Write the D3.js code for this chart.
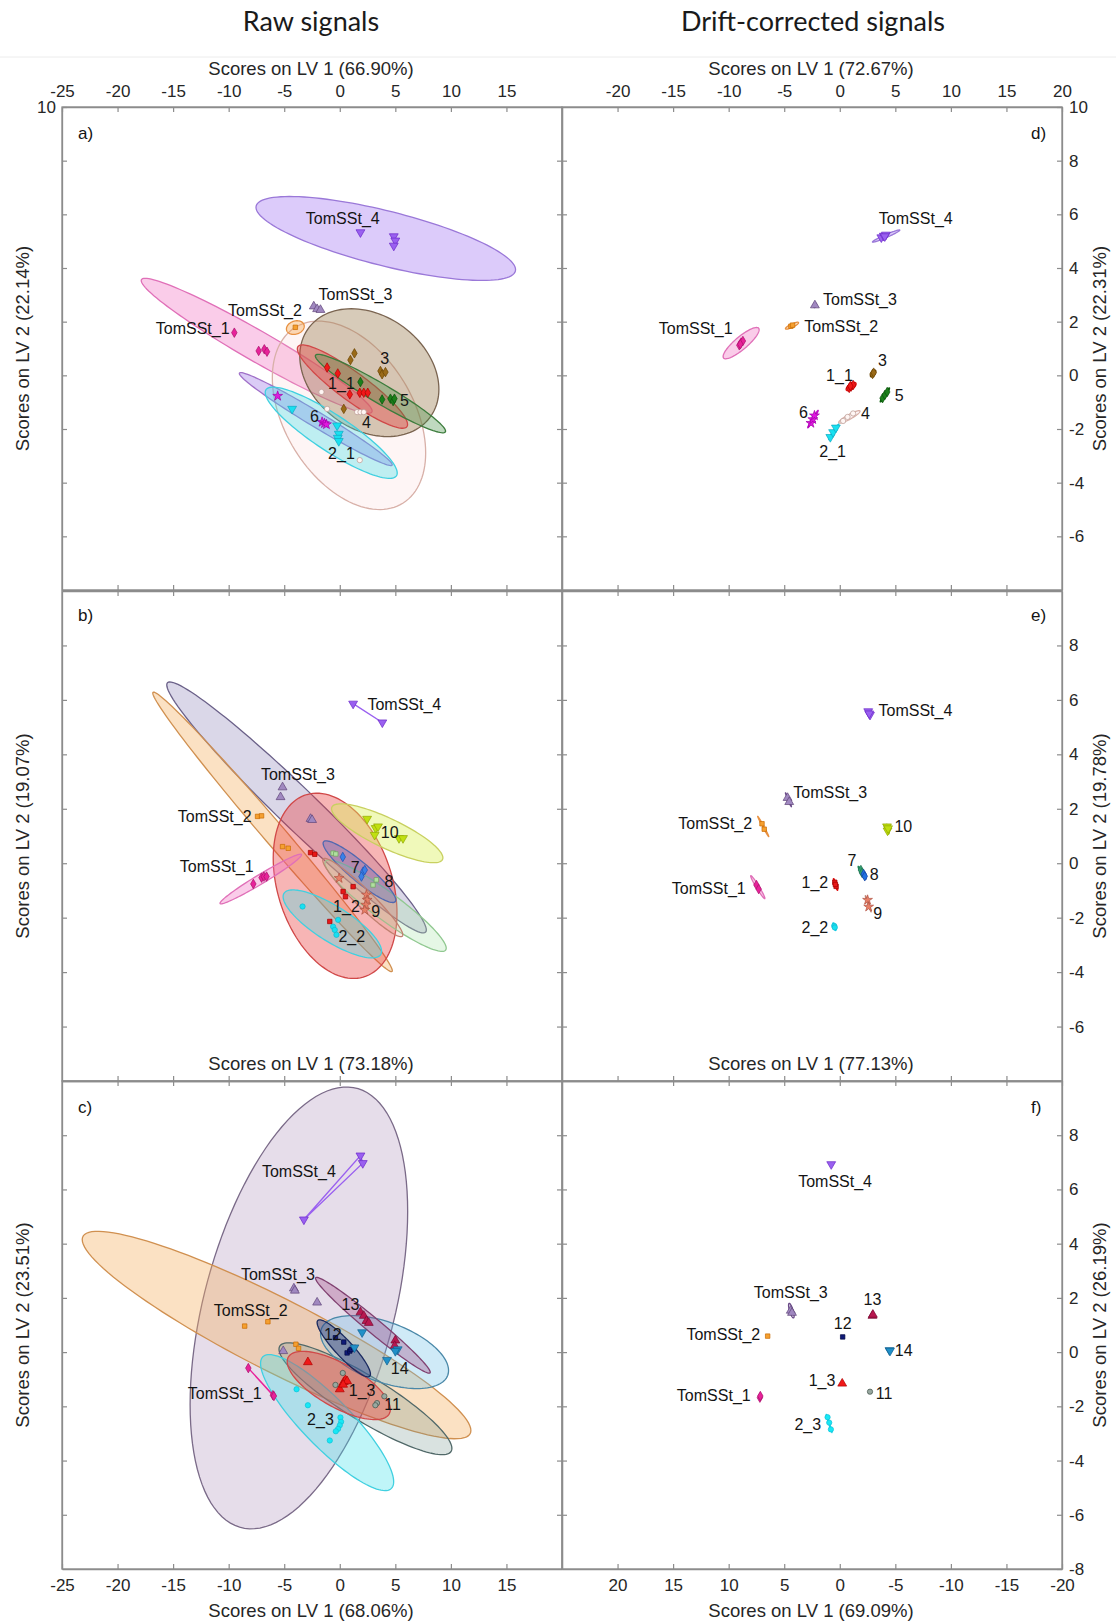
<!DOCTYPE html>
<html><head><meta charset="utf-8">
<script src="https://cdn.jsdelivr.net/npm/d3@7"></script>
<style>
body{margin:0;background:#fff;}
svg text{font-family:"Liberation Sans",Arial,Helvetica,sans-serif;}
</style>
</head><body>
<svg id="chart" width="1116" height="1623"></svg>
<script>
// ---------------- DATA ----------------
const columnTitles = ["Raw signals", "Drift-corrected signals"];
const xTicks = [-20,-15,-10,-5,0,5,10,15];
const yTicks = [-6,-4,-2,0,2,4,6,8];
const xLabelsLeft = [-25,-20,-15,-10,-5,0,5,10,15];
const xLabelsRight = [-20,-15,-10,-5,0,5,10,15,20];
const xLabelsF = [20,15,10,5,0,-5,-10,-15,-20];
const yLabelsD = [10,8,6,4,2,0,-2,-4,-6];
const yLabelsE = [8,6,4,2,0,-2,-4,-6];
const yLabelsF = [8,6,4,2,0,-2,-4,-6,-8];

const xTitles = {a:"Scores on LV 1 (66.90%)", d:"Scores on LV 1 (72.67%)", b:"Scores on LV 1 (73.18%)",
                 e:"Scores on LV 1 (77.13%)", c:"Scores on LV 1 (68.06%)", f:"Scores on LV 1 (69.09%)"};
const yTitles = {a:"Scores on LV 2 (22.14%)", d:"Scores on LV 2 (22.31%)", b:"Scores on LV 2 (19.07%)",
                 e:"Scores on LV 2 (19.78%)", c:"Scores on LV 2 (23.51%)", f:"Scores on LV 2 (26.19%)"};

// points: [group, LV1, LV2]
const aPoints = [
 ["T1",-9.49,1.59],["T1",-7.30,0.91],["T1",-6.79,0.97],["T1",-6.55,0.88],
 ["T2",-4.0,1.79],
 ["T3",-2.34,2.57],["T3",-2.04,2.47],["T3",-1.74,2.44],
 ["T4",1.86,5.33],["T4",4.86,5.18],["T4",5.0,5.02],["T4",4.86,4.83],
 ["3",1.32,0.82],["3",0.96,0.57],["3",3.66,0.16],["3",3.81,0.04],["3",4.11,0.12],["3",0.36,-1.25],
 ["1_1",-1.14,0.29],["1_1",-0.18,0.07],["1_1",0.9,-0.71],["1_1",1.80,-0.65],["1_1",2.16,-0.65],["1_1",2.52,-0.65],
 ["5",1.86,-0.25],["5",3.81,-0.90],["5",4.56,-0.87],["5",4.80,-0.96],["5",4.92,-0.87],
 ["4",-1.65,-0.62],["4",-1.14,-1.25],["4",1.56,-1.37],["4",1.86,-1.37],["4",2.16,-1.37],["4",1.80,-3.16],
 ["6",-5.59,-0.77],["6",-1.59,-1.74],["6",-1.38,-1.79],["6",-1.20,-1.83],
 ["2_1",-4.29,-1.25],["2_1",-0.24,-1.87],["2_1",-0.09,-2.18],["2_1",-0.18,-2.33],["2_1",-0.09,-2.45]
];
// ellipses: [style, centreLV1, centreLV2, u1, u2, h]
const aEllipses = [
 ["T4e",4.14,5.10,11.68,-1.16,1.05],
 ["T1e",-7.48,1.10,10.39,-2.43,0.65],
 ["4e",0.83,-1.49,6.9,-1.4,3.22],
 ["3e",2.66,0.10,6.26,-0.62,2.3],
 ["6e",-2.16,-1.63,6.88,-1.70,0.33],
 ["2e",-0.77,-2.14,5.94,-1.5,0.8],
 ["1e",1.14,-0.42,4.96,-1.41,0.65],
 ["5e",3.66,-0.68,5.86,-1.40,0.42],
 ["T2e",-4.0,1.78,0.8,0.05,0.25]
];
const aLabels = [["TomSSt_4",0.27,5.64],["TomSSt_3",1.41,2.8],["TomSSt_2",-6.73,2.22],["TomSSt_1",-13.24,1.53],
 ["3",4.05,0.44],["1_1",0.15,-0.52],["5",5.83,-1.15],["6",-2.28,-1.74],["4",2.40,-1.98],["2_1",0.15,-3.10]];

const dPoints = [
 ["T4",3.74,5.14],["T4",3.96,5.20],["T4",4.15,5.24],["T4",4.05,5.18],
 ["T3",-2.24,2.61],
 ["T2",-4.4,1.83],["T2",-4.25,1.87],
 ["T1",-9.04,1.12],["T1",-8.88,1.22],["T1",-8.72,1.28],["T1",-8.95,1.16],
 ["3",2.95,0.05],["3",3.05,0.1],
 ["1_1",0.85,-0.47],["1_1",1.02,-0.42],["1_1",1.2,-0.36],["1_1",0.95,-0.40],
 ["5",3.85,-0.85],["5",4.06,-0.73],["5",4.27,-0.62],
 ["4",0.3,-1.7],["4",0.7,-1.55],["4",1.2,-1.42],
 ["6",-2.6,-1.78],["6",-2.43,-1.64],["6",-2.28,-1.5],
 ["2_1",-0.85,-2.3],["2_1",-0.6,-2.12],["2_1",-0.35,-1.95]
];
const dEllipses = [
 ["T4e",4.17,5.19,1.23,0.22,0.06],
 ["T2e",-4.30,1.85,0.59,0.11,0.07],
 ["T1e",-8.88,1.20,1.62,0.5,0.3],
 ["T3s",-2.24,2.61,0.15,0.02,0.08],
 ["3s",3.0,0.07,0.25,0.08,0.1],
 ["1s",1.02,-0.42,0.45,0.1,0.12],
 ["5s",4.06,-0.73,0.42,0.25,0.08],
 ["4e",0.86,-1.55,0.96,0.21,0.1],
 ["6s",-2.41,-1.63,0.47,0.32,0.06],
 ["2s",-0.54,-2.11,0.45,0.28,0.07]
];
const dLabels = [["TomSSt_4",6.84,5.63],["TomSSt_3",1.82,2.62],["TomSSt_2",0.13,1.63],["TomSSt_1",-12.97,1.53],
 ["3",3.83,0.35],["1_1",-0.03,-0.21],["5",5.34,-0.96],["4",2.3,-1.62],["6",-3.26,-1.58],["2_1",-0.64,-3.03]];

const bPoints = [
 ["T4",1.20,5.86],["T4",3.83,5.17],
 ["T3",-5.15,2.79],["T3",-5.33,2.43],["T3",-2.63,1.63],["T3",-2.49,1.59],
 ["T2",-7.40,1.72],["T2",-7.04,1.74],["T2",-5.15,0.61],["T2",-4.64,0.55],
 ["T1",-7.78,-0.76],["T1",-7.04,-0.53],["T1",-6.83,-0.49],["T1",-6.59,-0.49],
 ["1_2",-2.63,0.39],["1_2",-2.25,0.33],["1_2",1.20,-0.86],["1_2",0.30,-1.04],["1_2",0.51,-1.23],["1_2",-0.90,-2.14],
 ["2_2",-3.35,-1.59],["2_2",-0.15,-2.08],["2_2",-0.60,-2.33],["2_2",-0.45,-2.45],["2_2",-0.30,-2.63],
 ["7",0.27,0.23],["7",2.10,-0.31],["7",1.95,-0.49],["7",2.25,-0.25],
 ["8",-0.60,0.37],["8",-0.36,0.34],["8",2.99,-0.80],["8",3.29,-0.61],
 ["9",-0.06,-0.55],["9",2.40,-1.16],["9",2.46,-1.35],["9",2.34,-1.53],["9",2.25,-1.72],
 ["10",2.46,1.63],["10",3.23,1.29],["10",3.44,1.35],["10",3.14,1.04],["10",5.33,0.92],["10",5.69,0.92]
];
const bEllipses = [
 ["T3b",-3.89,2.05,11.68,-4.5,1.0],
 ["T2b",-6.05,1.15,10.78,-5.1,0.6],
 ["1e",-0.42,-0.83,5.57,-1.01,3.25],
 ["2e",-0.67,-2.23,4.43,-1.0,0.75],
 ["8e",4.12,-1.56,5.46,-1.56,0.62],
 ["7e",1.77,-0.31,3.27,-1.04,0.45],
 ["9e",2.07,-1.26,3.6,-1.37,0.44],
 ["10e",4.27,1.1,5.01,-0.9,0.6],
 ["T1e",-7.11,-0.58,3.67,0.89,0.2]
];
const bOutlines = ["T4"];
const bLabels = [["TomSSt_4",5.81,5.64],["TomSSt_3",-3.77,3.06],["TomSSt_2",-11.26,1.53],["TomSSt_1",-11.08,-0.34],
 ["10",4.49,0.92],["7",1.38,-0.37],["8",4.43,-0.88],["1_2",0.6,-1.78],["9",3.23,-1.96],["2_2",1.08,-2.88]];

const ePoints = [
 ["T4",2.56,5.58],["T4",2.72,5.45],["T4",2.65,5.5],
 ["T3",-4.7,2.4],["T3",-4.55,2.25],
 ["T2",-7.0,1.45],["T2",-6.8,1.25],
 ["T1",-7.5,-0.8],["T1",-7.3,-0.95],
 ["10",4.25,1.35],["10",4.3,1.2],["10",4.35,1.28],
 ["7g",1.9,-0.25],["7g",2.0,-0.35],
 ["8b",2.15,-0.4],["8b",2.25,-0.48],
 ["1_2",-0.45,-0.7],["1_2",-0.33,-0.85],["1_2",-0.4,-0.78],
 ["9",2.5,-1.35],["9",2.6,-1.6],
 ["2_2",-0.5,-2.3],["2_2",-0.45,-2.36]
];
const eEllipses = [
 ["T3s",-4.62,2.33,0.27,-0.25,0.05],
 ["T2e",-6.89,1.35,0.5,-0.37,0.05],
 ["T1e",-7.38,-0.88,0.64,-0.41,0.1],
 ["10s",4.3,1.25,0.15,-0.1,0.15],
 ["7s",1.95,-0.33,0.3,-0.2,0.08],
 ["8s",2.17,-0.42,0.2,-0.15,0.07],
 ["1s",-0.38,-0.78,0.2,-0.19,0.1],
 ["9e",2.56,-1.49,0.26,-0.29,0.05],
 ["2s",-0.48,-2.33,0.15,-0.1,0.1]
];
const eLabels = [["TomSSt_4",6.81,5.39],["TomSSt_3",-0.86,2.39],["TomSSt_2",-11.21,1.25],["TomSSt_1",-11.79,-1.14],
 ["10",5.72,1.13],["7",1.09,-0.12],["8",3.10,-0.61],["1_2",-2.24,-0.92],["9",3.42,-2.06],["2_2",-2.24,-2.57]];

const cPoints = [
 ["T4",1.86,7.25],["T4",2.07,6.97],["T4",-3.23,4.89],
 ["T3",-4.13,2.35],["T3",-4.04,2.27],["T3",-2.04,1.83],["T3",-5.09,0.04],
 ["T2",-8.56,0.96],["T2",-6.47,1.12],["T2",-3.95,0.29],["T2",-3.71,0.14],
 ["T1",-8.23,-0.59],["T1",-6.02,-1.59],["T1",-5.93,-1.62],
 ["1_3",-2.87,-0.37],["1_3",0.0,-1.37],["1_3",0.36,-1.10],["1_3",0.51,-1.03],["1_3",0.66,-1.07],["1_3",0.30,-1.20],
 ["11",0.27,-0.77],["11",-0.39,-1.21],["11",4.01,-1.63],["11",3.35,-1.88],["11",3.20,-1.96],
 ["2_3",-3.89,-1.37],["2_3",-2.87,-1.96],["2_3",0.06,-2.41],["2_3",0.12,-2.57],["2_3",0.0,-2.70],["2_3",-0.15,-2.83],["2_3",-0.36,-2.92],["2_3",-0.90,-3.26],
 ["12",-0.39,0.53],["12",0.36,0.37],["12",0.66,-0.03],["12",0.90,0.04],["12",1.02,0.10],["12",1.26,0.17],
 ["13",1.86,1.47],["13",2.16,1.34],["13",2.40,1.15],["13",2.61,1.08],["13",5.0,0.43],["13",4.94,0.23],
 ["14",2.01,0.73],["14",1.32,0.17],["14",5.21,0.10],["14",5.0,0.04],["14",4.25,-0.29]
];
const cEllipses = [
 ["T4c",-3.68,1.63,9.79,3.56,7.33],
 ["T2b",-5.69,0.63,17.49,-3.52,1.5],
 ["11e",2.31,-1.72,7.78,-1.83,0.95],
 ["2e",-1.14,-2.6,5.99,-2.18,1.24],
 ["14e",4.03,0.0,5.76,-0.68,1.16],
 ["13e",2.98,0.99,5.16,-1.73,0.35],
 ["1e",-0.09,-1.23,4.64,-0.88,0.9],
 ["12e",0.36,0.14,2.40,-0.95,0.45]
];
const cOutlines = ["T4","T1"];
const cLabels = [["TomSSt_4",-3.68,6.47],["TomSSt_3",-5.57,2.65],["TomSSt_2",-8.02,1.32],["TomSSt_1",-10.36,-1.72],
 ["13",0.96,1.54],["12",-0.63,0.43],["14",5.39,-0.81],["1_3",2.01,-1.62],["11",4.76,-2.14],["2_3",-1.74,-2.70]];

const fPoints = [
 ["T4",0.77,6.93],
 ["T3",4.41,1.53],["T3",4.3,1.45],
 ["T2",6.49,0.59],
 ["T1",7.19,-1.68],["T1",7.15,-1.62],
 ["13",-2.94,1.34],["13",-2.98,1.38],
 ["12",-0.26,0.56],
 ["14",-4.47,0.07],["14",-4.52,0.05],
 ["1_3",-0.22,-1.16],
 ["11",-2.72,-1.46],
 ["2_3",1.1,-2.4],["2_3",0.95,-2.6],["2_3",0.8,-2.85]
];
const fEllipses = [
 ["T3s",4.36,1.53,0.25,0.2,0.18],
 ["2s",0.96,-2.63,0.26,0.33,0.06]
];
const fLabels = [["TomSSt_4",0.42,6.09],["TomSSt_3",4.41,1.99],["TomSSt_2",10.48,0.43],["TomSSt_1",11.34,-1.82],
 ["13",-2.94,1.73],["12",-0.26,0.85],["14",-5.75,-0.16],["1_3",1.6,-1.26],["11",-3.99,-1.72],["2_3",2.88,-2.89]];

// ---------------- STYLES ----------------
const markerStyles = {
 T1:{shape:"diamond",fill:"#e8229a",edge:"#a8106a"},
 T2:{shape:"square",fill:"#f5a030",edge:"#c86a00"},
 T3:{shape:"triangle",fill:"#a088c0",edge:"#5e4478"},
 T4:{shape:"triangleDown",fill:"#9a60f0",edge:"#6a28c8"},
 "1_1":{shape:"diamond",fill:"#f01818",edge:"#b00000"},
 "1_2":{shape:"square",fill:"#e81818",edge:"#a00000"},
 "1_3":{shape:"triangle",fill:"#f01818",edge:"#b00000"},
 "2_1":{shape:"triangleDown",fill:"#18e0f0",edge:"#10a8c0"},
 "2_2":{shape:"circle",fill:"#18e0f0",edge:"#10b8d0"},
 "2_3":{shape:"circle",fill:"#18e8f4",edge:"#10c0d8"},
 "3":{shape:"diamond",fill:"#9a6a18",edge:"#6a4400"},
 "4":{shape:"circle",fill:"#fff6f4",edge:"#b89890"},
 "5":{shape:"diamond",fill:"#1a801a",edge:"#0a500a"},
 "6":{shape:"star",fill:"#e018e0",edge:"#a000a8"},
 "7":{shape:"diamond",fill:"#3a80e8",edge:"#2050b0"},
 "8":{shape:"square",fill:"#b0e0a0",edge:"#70a060"},
 "9":{shape:"star",fill:"#e88068",edge:"#b05040"},
 "10":{shape:"triangleDown",fill:"#c0e010",edge:"#90a800"},
 "11":{shape:"circle",fill:"#98a8a0",edge:"#405048"},
 "12":{shape:"square",fill:"#101a78",edge:"#000840"},
 "13":{shape:"triangle",fill:"#b81850",edge:"#780830"},
 "14":{shape:"triangleDown",fill:"#2090c8",edge:"#106090"},
 "7g":{shape:"diamond",fill:"#30a070",edge:"#207050"},
 "8b":{shape:"diamond",fill:"#2070e0",edge:"#1040a0"}
};
const ellipseStyles = {
 T1e:{fill:"#f06cc0",op:0.35,stroke:"#e070b8"},
 T2e:{fill:"#f8a850",op:0.4,stroke:"#e89040"},
 T2b:{fill:"#f5b060",op:0.38,stroke:"#d09050"},
 T3b:{fill:"#968cbe",op:0.35,stroke:"#6a6088"},
 T3s:{fill:"#a088c0",op:0.3,stroke:"#6a4a88"},
 T4e:{fill:"#a77cf2",op:0.4,stroke:"#9a78d8"},
 T4c:{fill:"#9a78aa",op:0.25,stroke:"#7a6a88"},
 "1e":{fill:"#eb3c3c",op:0.38,stroke:"#d04848"},
 "1s":{fill:"#f01818",op:0.6,stroke:"#e01010"},
 "2e":{fill:"#3ce1eb",op:0.33,stroke:"#40d0e0"},
 "2s":{fill:"#20e0f0",op:0.6,stroke:"#18d0e8"},
 "3e":{fill:"#a08258",op:0.42,stroke:"#7a6450"},
 "3s":{fill:"#9a6a18",op:0.6,stroke:"#6a4400"},
 "4e":{fill:"#fac8c8",op:0.18,stroke:"#d8b0a8"},
 "5e":{fill:"#3c8c3c",op:0.33,stroke:"#3c7c3c"},
 "5s":{fill:"#1a801a",op:0.6,stroke:"#0a600a"},
 "6e":{fill:"#966ee6",op:0.35,stroke:"#a070c8"},
 "6s":{fill:"#e018e0",op:0.5,stroke:"#c010c8"},
 "7e":{fill:"#3c5ac8",op:0.28,stroke:"#5068b0"},
 "7s":{fill:"#30a070",op:0.5,stroke:"#208858"},
 "8e":{fill:"#aae6aa",op:0.3,stroke:"#90c890"},
 "8s":{fill:"#2070e0",op:0.6,stroke:"#1050c0"},
 "9e":{fill:"#e69682",op:0.2,stroke:"#c08070"},
 "10e":{fill:"#dcf05a",op:0.42,stroke:"#c8d060"},
 "10s":{fill:"#c0e010",op:0.6,stroke:"#a0c000"},
 "11e":{fill:"#78968f",op:0.28,stroke:"#506868"},
 "12e":{fill:"#283c82",op:0.45,stroke:"#1a2a60"},
 "13e":{fill:"#a04682",op:0.33,stroke:"#804070"},
 "14e":{fill:"#6ebee6",op:0.33,stroke:"#4a88a8"}
};

// ---------------- LAYOUT ----------------
const panels = [
 {id:"a", letter:"a)", x0:62, x1:562, y0:107, y1:590, xd:[-25,20], pts:aPoints, ells:aEllipses, labs:aLabels, outl:[], side:"L", topLab:xLabelsLeft},
 {id:"d", letter:"d)", x0:562, x1:1062, y0:107, y1:590, xd:[-25,20], pts:dPoints, ells:dEllipses, labs:dLabels, outl:[], side:"R", topLab:xLabelsRight, rightLab:yLabelsD},
 {id:"b", letter:"b)", x0:62, x1:562, y0:591, y1:1081, xd:[-25,20], pts:bPoints, ells:bEllipses, labs:bLabels, outl:bOutlines, side:"L"},
 {id:"e", letter:"e)", x0:562, x1:1062, y0:591, y1:1081, xd:[-25,20], pts:ePoints, ells:eEllipses, labs:eLabels, outl:[], side:"R", rightLab:yLabelsE},
 {id:"c", letter:"c)", x0:62, x1:562, y0:1081, y1:1569, xd:[-25,20], pts:cPoints, ells:cEllipses, labs:cLabels, outl:cOutlines, side:"L", botLab:xLabelsLeft},
 {id:"f", letter:"f)", x0:562, x1:1062, y0:1081, y1:1569, xd:[25,-20], pts:fPoints, ells:fEllipses, labs:fLabels, outl:[], side:"R", botLab:xLabelsF, rightLab:yLabelsF}
];

const svg = d3.select("#chart");
const defs = svg.append("defs");
const AX = "#8c8c8c", TXT = "#262626";

// column titles
svg.selectAll("text.coltitle").data(columnTitles).join("text")
 .attr("x",(d,i)=> i===0 ? 311 : 813).attr("y",31)
 .attr("text-anchor","middle").attr("font-size",27)
 .style("font-family","Lato, 'Open Sans', sans-serif").attr("fill","#1a1a1a").text(d=>d);
svg.append("line").attr("x1",0).attr("x2",1116).attr("y1",57).attr("y2",57).attr("stroke","#ececec").attr("stroke-width",1);

const symType = {diamond:d3.symbolDiamond, square:d3.symbolSquare, triangle:d3.symbolTriangle,
                 triangleDown:d3.symbolTriangle, circle:d3.symbolCircle, star:d3.symbolStar};
const symSize = {diamond:26, square:20, triangle:34, triangleDown:34, circle:22, star:30};

function styleAxis(sel){
  sel.select(".domain").attr("stroke",AX).attr("stroke-width",1.3);
  sel.selectAll(".tick line").attr("stroke",AX).attr("stroke-width",1.2);
  sel.selectAll(".tick text").attr("font-size",17).attr("fill",TXT)
     .style("font-family","'Liberation Sans', Arial, sans-serif");
}

panels.forEach(p=>{
  const xs = d3.scaleLinear().domain(p.xd).range([p.x0,p.x1]);
  const ys = d3.scaleLinear().domain([-8,10]).range([p.y1,p.y0]);
  defs.append("clipPath").attr("id","clip-"+p.id).append("rect")
      .attr("x",p.x0).attr("y",p.y0).attr("width",p.x1-p.x0).attr("height",p.y1-p.y0);
  const g = svg.append("g").attr("clip-path",`url(#clip-${p.id})`);

  // ellipses
  const ellLine = d3.line();
  g.selectAll("path.ell").data(p.ells).join("path").attr("class","ell")
   .attr("d", e=>{
      const pts = d3.range(0,360,3).map(a=>{
        const t=a*Math.PI/180;
        return [xs(e[1]+e[3]*Math.cos(t)), ys(e[2]+e[4]*Math.cos(t)+e[5]*Math.sin(t))];
      });
      return ellLine(pts)+"Z";
   })
   .attr("fill",e=>ellipseStyles[e[0]].fill).attr("fill-opacity",e=>ellipseStyles[e[0]].op)
   .attr("stroke",e=>ellipseStyles[e[0]].stroke).attr("stroke-width",1.3);

  // outlines joining group points (degenerate ellipses)
  p.outl.forEach(grp=>{
    const pts = p.pts.filter(d=>d[0]===grp).map(d=>[xs(d[1]),ys(d[2])]);
    g.append("path").attr("d", d3.line()(pts)+"Z")
     .attr("fill","none").attr("stroke",markerStyles[grp].fill).attr("stroke-width",1.4);
  });

  // markers
  g.selectAll("path.pt").data(p.pts).join("path").attr("class","pt")
   .attr("d", d=>{const s=markerStyles[d[0]]; return d3.symbol().type(symType[s.shape]).size(symSize[s.shape])();})
   .attr("transform", d=>{const s=markerStyles[d[0]]; return `translate(${xs(d[1])},${ys(d[2])})`+(s.shape==="triangleDown"?" rotate(180)":"");})
   .attr("fill", d=>markerStyles[d[0]].fill).attr("stroke", d=>markerStyles[d[0]].edge).attr("stroke-width",0.7);

  // labels
  svg.selectAll(null).data(p.labs).join("text")
   .attr("x",d=>xs(d[1])).attr("y",d=>ys(d[2])).attr("text-anchor","middle")
   .attr("font-size",16).attr("fill","#141414").text(d=>d[0]);

  // axes (inward ticks on all four sides)
  const fmt = d=>String(d);
  const topA = d3.axisTop(xs).tickValues(p.topLab||xTicks).tickSize(-5).tickSizeOuter(0).tickPadding(10)
      .tickFormat(p.topLab?fmt:()=>"");
  svg.append("g").attr("transform",`translate(0,${p.y0})`).call(topA).call(styleAxis);
  const botA = d3.axisBottom(xs).tickValues(p.botLab||xTicks).tickSize(-5).tickSizeOuter(0).tickPadding(10)
      .tickFormat(p.botLab?fmt:()=>"");
  svg.append("g").attr("transform",`translate(0,${p.y1})`).call(botA).call(styleAxis);
  const leftVals = p.id==="a" ? yTicks.concat([10]) : yTicks;
  const leftA = d3.axisLeft(ys).tickValues(leftVals).tickSize(-5).tickSizeOuter(0).tickPadding(6)
      .tickFormat(d=> (p.id==="a" && d===10) ? "10" : "");
  svg.append("g").attr("transform",`translate(${p.x0},0)`).call(leftA).call(styleAxis);
  const rightA = d3.axisRight(ys).tickValues(p.rightLab||yTicks).tickSize(-5).tickSizeOuter(0).tickPadding(7)
      .tickFormat(p.rightLab?fmt:()=>"");
  svg.append("g").attr("transform",`translate(${p.x1},0)`).call(rightA).call(styleAxis);

  svg.append("rect").attr("x",p.x0).attr("y",p.y0).attr("width",p.x1-p.x0).attr("height",p.y1-p.y0)
     .attr("fill","none").attr("stroke",AX).attr("stroke-width",1.3);

  // panel letter
  const lx = p.side==="L" ? p.x0+16 : p.x1-31;
  svg.append("text").attr("x",lx).attr("y",p.y0+ (p.id==="b"||p.id==="e"?30:32))
     .attr("font-size",17).attr("fill","#141414").text(p.letter);

  // axis titles
  const cx = (p.x0+p.x1)/2 - 1;
  let ty;
  if(p.id==="a"||p.id==="d") ty = 75;
  else if(p.id==="b"||p.id==="e") ty = 1070;
  else ty = 1617;
  svg.append("text").attr("x",cx).attr("y",ty).attr("text-anchor","middle")
     .attr("font-size",18.5).attr("fill",TXT).text(xTitles[p.id]);
  const yc = (p.y0+p.y1)/2;
  const yx = p.side==="L" ? 29 : 1106;
  svg.append("text").attr("transform",`translate(${yx},${yc}) rotate(-90)`).attr("text-anchor","middle")
     .attr("font-size",18.5).attr("fill",TXT).text(yTitles[p.id]);
});
</script>
</body></html>
